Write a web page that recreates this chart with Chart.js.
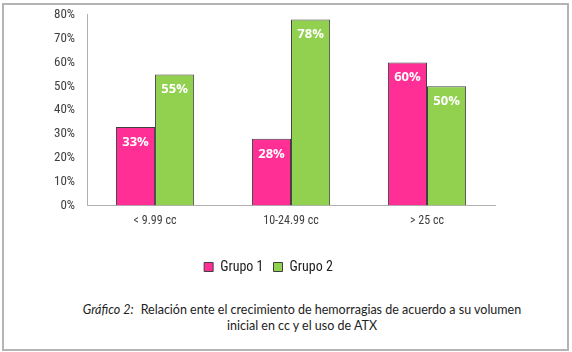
<!DOCTYPE html>
<html>
<head>
<meta charset="utf-8">
<script src="https://cdn.jsdelivr.net/npm/chart.js@4.4.1/dist/chart.umd.min.js"></script>
<style>
  html, body { margin: 0; padding: 0; background: #fff; }
  #wrap { position: relative; width: 572px; height: 352px; }
  #frame { position: absolute; left: 2px; top: 3px; width: 563px; height: 344px; border: 2px solid #b4b4b4; box-sizing: content-box; }
  #chart { position: absolute; left: 0; top: 0; }
  #caption { position: absolute; left: 0; top: 302px; width: 604px; text-align: center;
    font-family: Lato, "Open Sans", sans-serif; font-size: 12.5px; line-height: 16px; color: #222; }
  #caption i { margin-right: 4px; }
</style>
</head>
<body>
<div id="wrap">
  <div id="frame"></div>
  <canvas id="chart" width="572" height="284"></canvas>
  <div id="caption"><i>Gráfico 2:</i> Relación ente el crecimiento de hemorragias de acuerdo a su volumen<br>inicial en cc y el uso de ATX</div>
</div>
<script>
const categorias = ['< 9.99 cc', '10-24.99 cc', '> 25 cc'];
const grupo1 = [33, 28, 60];
const grupo2 = [55, 78, 50];
const yTicks = [0, 10, 20, 30, 40, 50, 60, 70, 80];

const fuenteEje = '"Roboto Condensed", "DejaVu Sans", sans-serif';

// etiquetas blancas dentro de cada barra
const etiquetasBarras = {
  id: 'etiquetasBarras',
  afterDatasetsDraw(chart) {
    const ctx = chart.ctx;
    ctx.save();
    ctx.font = 'bold 13px "Open Sans", sans-serif';
    ctx.fillStyle = '#ffffff';
    ctx.textAlign = 'center';
    ctx.textBaseline = 'middle';
    chart.data.datasets.forEach((ds, i) => {
      chart.getDatasetMeta(i).data.forEach((bar, j) => {
        ctx.fillText(ds.data[j] + '%', bar.x, bar.y + 15);
      });
    });
    ctx.restore();
  }
};

new Chart(document.getElementById('chart'), {
  type: 'bar',
  data: {
    labels: categorias,
    datasets: [
      { label: 'Grupo 1', data: grupo1, backgroundColor: '#ff2f96', borderColor: '#404040', borderWidth: 1 },
      { label: 'Grupo 2', data: grupo2, backgroundColor: '#92d050', borderColor: '#404040', borderWidth: 1 }
    ]
  },
  options: {
    responsive: false,
    animation: false,
    categoryPercentage: 0.575,
    barPercentage: 1,
    layout: { padding: { top: 0, right: 77, left: 42, bottom: 0 } },
    plugins: {
      tooltip: { enabled: false },
      legend: {
        position: 'bottom',
        labels: {
          boxWidth: 9, boxHeight: 9, padding: 10,
          color: '#222',
          font: { family: fuenteEje, size: 14 },
          generateLabels(chart) {
            return chart.data.datasets.map((ds, i) => ({
              text: ds.label, fillStyle: ds.backgroundColor, strokeStyle: '#404040',
              lineWidth: 1, datasetIndex: i, fontColor: '#222'
            }));
          }
        }
      }
    },
    scales: {
      x: {
        grid: { display: false, drawTicks: false },
        border: { color: '#b0b0b0', width: 1 },
        ticks: { color: '#404040', font: { family: fuenteEje, size: 12 }, padding: 8 },
        afterFit(scale) { scale.height += 14; }
      },
      y: {
        min: 0, max: 80,
        afterBuildTicks(axis) { axis.ticks = yTicks.map(v => ({ value: v })); },
        afterFit(scale) { scale.paddingTop = 14.8; scale.paddingBottom = 8; },
        grid: { display: false, drawTicks: false },
        border: { color: '#b0b0b0', width: 1 },
        ticks: { color: '#404040', font: { family: fuenteEje, size: 13 }, padding: 12,
          callback: v => v + '%' }
      }
    }
  },
  plugins: [etiquetasBarras]
});
</script>
</body>
</html>
